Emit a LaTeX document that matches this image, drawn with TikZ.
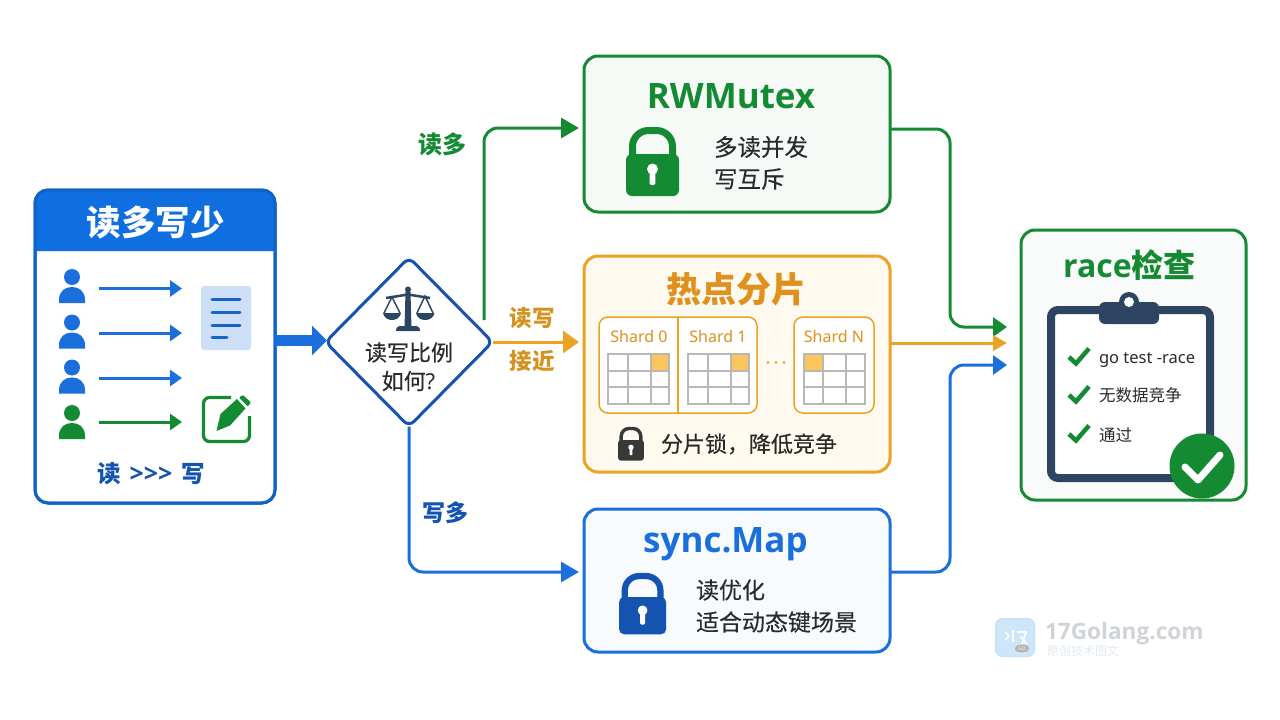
\documentclass[tikz,border=0pt]{standalone}
\usepackage{fontspec}
\usetikzlibrary{arrows.meta,shapes.geometric,calc}
\setmainfont{Noto Sans CJK SC}
\newfontfamily\latf{Noto Sans}
\newfontfamily\latb{Open Sans}
\newfontfamily\medf{Noto Sans CJK SC}[FakeBold=0.25]
\newcommand{\fsz}[1]{\fontsize{#1}{#1}\selectfont}
\definecolor{cgreen}{HTML}{148A32}
\definecolor{cblue}{HTML}{1A6FDC}
\definecolor{chead}{HTML}{0F6FE0}
\definecolor{cdblue}{HTML}{1553B0}
\definecolor{cedge}{HTML}{0F62C8}
\definecolor{corange}{HTML}{EDA223}
\definecolor{ctitleo}{HTML}{E0901C}
\definecolor{chigh}{HTML}{FBC75C}
\definecolor{cnavy}{HTML}{2D4560}
\definecolor{cink}{HTML}{2A2A2A}
\definecolor{cgrid}{HTML}{B8B8B8}
\definecolor{cwm}{HTML}{D0D3D8}
\definecolor{cwmsub}{HTML}{E2EAF3}
\definecolor{cwmicon}{HTML}{CDE6F8}
\definecolor{cwmedge}{HTML}{BFE4F5}
\definecolor{chotbg}{HTML}{FFFAEF}
\newcommand{\lockicon}[4]{% x y scale colour : top-left of body
  \begin{scope}[shift={(#1,#2)},scale=#3]
    \draw[#4,line width=#3*7pt] (6.5,3) -- (6.5,-7) [rounded corners=#3*16pt] -- (6.5,-23.5) -- (46.5,-23.5) [sharp corners] -- (46.5,-7) -- (46.5,3);
    \fill[#4,rounded corners=#3*6pt] (0,0) rectangle (53,42);
    \fill[white] (26.5,15) circle[radius=5.5pt];
    \fill[white,rounded corners=#3*1.5pt] (23.7,15) rectangle (29.3,31);
  \end{scope}}
\newcommand{\personicon}[3]{%
  \begin{scope}[shift={(#1,#2)}]
    \fill[#3] (0,0) circle[radius=8pt];
    \fill[#3] (-13,26) -- (-13,23) .. controls (-13,14) and (-7,10) .. (0,10) .. controls (7,10) and (13,14) .. (13,23) -- (13,26) -- cycle;
  \end{scope}}
\newcommand{\chk}[2]{\draw[cgreen,line width=4.5pt] (#1,#2) -- ++(7,6.5) -- ++(13,-15);}
\newcommand{\tablegrid}[6]{% x0 x1 x2 x3 hx0 hx1
  \fill[white] (#1,354) rectangle (#4,404);
  \fill[chigh] (#5,354) rectangle (#6,371);
  \draw[cgrid,line width=1.5pt] (#1,354) rectangle (#4,404) (#1,371) -- (#4,371) (#1,387) -- (#4,387) (#2,354) -- (#2,404) (#3,354) -- (#3,404);}
\tikzset{
  panel/.style={draw=#1,line width=3pt,rounded corners=14pt,inner sep=0pt,outer sep=0pt},
  shardbox/.style={draw=corange,line width=1.5pt,fill=white,rounded corners=9pt,inner sep=0pt,outer sep=0pt},
  flow/.style={line width=3pt,rounded corners=14pt},
  tipn/.style={-{Triangle[length=18pt,width=20pt]}},
  tipr/.style={-{Triangle[length=14pt,width=#1]}},
  minitip/.style={line width=3pt,-{Triangle[length=12pt,width=16pt]},draw=#1},
  body/.style={text=cink,inner sep=0pt,outer sep=0pt,anchor=west},
  lbl/.style={inner sep=0pt,outer sep=0pt},
}
\begin{document}
\begin{tikzpicture}[x=1pt,y=-1pt]
\useasboundingbox (0,0) rectangle (1280,720);
\fill[white] (0,0) rectangle (1280,720);

% ---- left panel
\node[panel=cedge,fill=white,rounded corners=13pt,minimum width=240pt,minimum height=313pt] (lb) at (155,346.5) {};
\fill[chead] (35,251) [rounded corners=13pt] -- (35,190) -- (275,190) [sharp corners] -- (275,251) -- cycle;
\draw[cedge,line width=3pt,rounded corners=13pt] (lb.south west) rectangle (lb.north east);
\node[lbl,text=white] (lbt) at (155.5,222) {\fsz{34.5}\bfseries 读多写少};
\personicon{72}{277}{cblue}
\personicon{72}{322.5}{cblue}
\personicon{72}{367.5}{cblue}
\personicon{72}{413}{cgreen}
\coordinate (a1) at (99,288.5); \coordinate (b1) at (182,288.5);
\coordinate (a2) at (99,333);   \coordinate (b2) at (182,333);
\coordinate (a3) at (99,378);   \coordinate (b3) at (182,378);
\coordinate (a4) at (99,422);   \coordinate (b4) at (182,422);
\draw[minitip=cblue] (a1) -- (b1);
\draw[minitip=cblue] (a2) -- (b2);
\draw[minitip=cblue] (a3) -- (b3);
\draw[minitip=cgreen] (a4) -- (b4);
% doc icon
\fill[cblue!22,rounded corners=3pt] (201,286) rectangle (251,350);
\draw[cblue!90!black,line width=3pt,line cap=round] (212,299) -- (240,299) (212,312) -- (240,312) (212,325) -- (240,325) (212,337) -- (227,337);
% edit icon
\draw[cgreen,line width=3.2pt,rounded corners=6pt] (231,397.5) -- (203.5,397.5) -- (203.5,441.5) -- (249.5,441.5) -- (249.5,416);
\fill[cgreen] (216.5,431) -- (220.5,414) -- (237,399) -- (245.5,408.5) -- (230,425.5) -- cycle;
\fill[cgreen,rounded corners=1pt] (239,397.5) -- (243,395) -- (251,402.5) -- (247.8,406.5) -- cycle;
\node[lbl,text=cdblue] (lbf) at (151,474) {\fsz{23.5}\bfseries 读\hspace{9pt}{\latb\bfseries\fsz{25}>>>}\hspace{9pt}写};

% ---- decision
\node[diamond,draw=cdblue,line width=3pt,fill=white,rounded corners=7pt,inner sep=0pt,outer sep=0pt,minimum width=167pt,minimum height=169pt] (dia) at (409,342) {};
% scales icon
\begin{scope}[cnavy]
  \draw[line width=2.5pt] (386,298) -- (408,294.5) -- (430,298);
  \fill (408,289.5) circle[radius=3pt];
  \fill (405.5,292) -- (410.5,292) -- (411.5,328) -- (404.5,328) -- cycle;
  \fill[rounded corners=1.5pt] (398,326) -- (418,326) -- (421,331) -- (395,331) -- cycle;
  \draw[line width=1.5pt] (384,313) -- (392,297) -- (400,313) (417,313) -- (425,296) -- (433,313);
  \fill (383,313) -- (401,313) .. controls (400,318) and (396,320) .. (392,320) .. controls (388,320) and (384,318) .. (383,313) -- cycle;
  \fill (416,313) -- (434.5,313) .. controls (433.5,318) and (429.5,320) .. (425,320) .. controls (421,320) and (417,318) .. (416,313) -- cycle;
\end{scope}
\node[lbl,text=cink] (d1) at (409,352.5) {\fsz{22}\medf 读写比例};
\node[lbl,text=cink] (d2) at (408.5,381) {\fsz{22}\medf 如何{\latf ?}};

% ---- RWMutex
\node[panel=cgreen,fill=cgreen!4,minimum width=306pt,minimum height=156pt] (rw) at (737,134) {};
\node[lbl,text=cgreen] (rwt) at (731,96) {\fsz{35}\latb\bfseries RWMutex};
\lockicon{626}{154}{1}{cgreen}
\node[body] (rw1) at (714,147) {\fsz{23.5}\medf 多读并发};
\node[body] (rw2) at (714,179) {\fsz{23.5}\medf 写互斥};

% ---- hot shards
\node[panel=corange,fill=chotbg,minimum width=306pt,minimum height=216pt] (hot) at (737,364) {};
\node[lbl,text=ctitleo] (hott) at (736,289) {\fsz{35}\bfseries 热点分片};
\node[shardbox,minimum width=158pt,minimum height=96pt] (s01) at (678,365) {};
\draw[corange,line width=1.5pt] (s01.north) -- (s01.south);
\node[shardbox,minimum width=80pt,minimum height=96pt] (sn) at (834,365) {};
\node[lbl,text=ctitleo] (s0t) at (639,336) {\fsz{16}\latf Shard 0};
\node[lbl,text=ctitleo] (s1t) at (718,336) {\fsz{16}\latf Shard 1};
\node[lbl,text=ctitleo] (snt) at (834,336) {\fsz{16}\latf Shard N};
\tablegrid{608}{628}{651}{669}{651}{669}
\tablegrid{688}{708}{731}{749}{731}{749}
\tablegrid{804}{823}{846}{865}{804}{823}
\fill[ctitleo!75] (768,362.5) circle[radius=1.6pt] (776,362.5) circle[radius=1.6pt] (784,362.5) circle[radius=1.6pt];
\lockicon{618}{440}{0.49}{black!78}
\node[body] (hotb) at (661,444) {\fsz{22}\medf 分片锁，降低竞争};

% ---- sync.Map
\node[panel=cblue,fill=cblue!3,minimum width=306pt,minimum height=143pt] (sm) at (737,580.5) {};
\node[lbl,text=cblue] (smt) at (725.5,544) {\fsz{35}\latb\bfseries sync.Map};
\lockicon{619}{597}{0.89}{cdblue}
\node[body] (sm1) at (696,590) {\fsz{23}\medf 读优化};
\node[body] (sm2) at (696,622) {\fsz{23}\medf 适合动态键场景};

% ---- race
\node[panel=cgreen,fill=cgreen!3,minimum width=225pt,minimum height=270pt] (race) at (1133.5,365) {};
\node[lbl,text=cgreen] (ract) at (1129.5,265) {\fsz{32}\bfseries{\latb\bfseries race}检查};
\draw[cnavy,line width=8pt,fill=white,rounded corners=7pt] (1051,310) rectangle (1210,478);
\fill[cnavy] (1129,302) circle[radius=10pt];
\fill[cnavy,rounded corners=6pt] (1099,302) rectangle (1159,324);
\fill[white] (1129,302) circle[radius=5pt];
\chk{1069}{357}
\chk{1069}{395}
\chk{1069}{434}
\node[body] (rc1) at (1099,360) {\fsz{16.5}\latf go test -race};
\node[body] (rc2) at (1099,395) {\fsz{16.5}无数据竞争};
\node[body] (rc3) at (1099,435) {\fsz{16.5}通过};
\fill[cgreen] (1202,466) circle[radius=32.5pt];
\draw[white,line width=7pt,line cap=round,line join=round] (1185,467) -- (1198,480) -- (1220,455);

% ---- connectors
\draw[cblue,line width=11pt,-{Triangle[length=15pt,width=29pt]},shorten >=-1.5pt] ([yshift=6pt]lb.east) -- ([yshift=1.5pt]dia.west);
\coordinate (gs) at (484,320);
\draw[cgreen,flow,tipn,shorten >=5pt] (gs) |- ([yshift=6pt]rw.west);
\draw[corange,line width=3pt,-{Triangle[length=16pt,width=22pt]},shorten >=5pt] (dia.east) -- (hot.west |- dia.east);
\draw[cblue,flow,tipn,shorten >=5pt] (dia.south) |- ([yshift=8.5pt]sm.west);
\draw[cgreen,flow,tipr=19pt,shorten >=14pt] ([yshift=5pt]rw.east) -- ++(60,0) |- ([yshift=38pt]race.west);
\draw[corange,line width=3pt,tipr=15pt,shorten >=14pt] ([yshift=21pt]hot.east) -- ([yshift=21pt]hot.east -| race.west);
\draw[cblue,flow,tipr=19pt,shorten >=14pt] ([yshift=8.5pt]sm.east) -- ++(60,0) |- (race.west);

% ---- branch labels
\node[lbl,text=cgreen] (l1) at (442,144) {\fsz{24}\bfseries 读多};
\node[lbl,text=corange!90!black] (l2) at (532,318) {\fsz{22.5}\bfseries 读写};
\node[lbl,text=corange!90!black] (l3) at (532,361) {\fsz{22.5}\bfseries 接近};
\node[lbl,text=cdblue] (l4) at (445,513) {\fsz{23}\bfseries 写多};

% ---- watermark
\fill[cwmicon,draw=cwmedge,line width=1pt,rounded corners=7pt] (995.5,618.5) rectangle (1034.5,656.5);
\draw[white,line width=1.6pt] (1005,632) -- (1009,636) -- (1005,640) (1013,630) -- (1013,642) (1017,632) -- (1026,632) -- (1022,644) (1020,636) -- (1027,644);
\fill[black!30] (1022,648.5) ellipse[x radius=7pt,y radius=4pt];
\node[lbl,text=white] (wg) at (1022,648.5) {\fsz{5}\latf GO};
\node[lbl,text=cwm,anchor=west] (w1) at (1045,634) {\fsz{22.6}\latb\bfseries 17Golang.com};
\node[lbl,text=cwmsub,anchor=west] (w2) at (1047,651) {\fsz{12}原创技术图文};
\end{tikzpicture}
\end{document}
